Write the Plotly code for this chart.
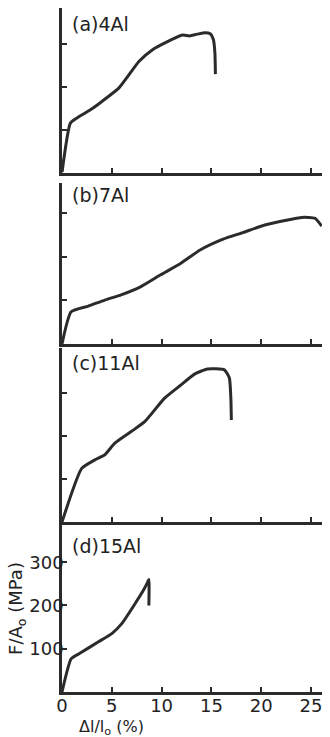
import plotly.graph_objects as go

# ---- data (strain %, stress MPa) ----
strain_a = [0, 0.84, 1.5, 2.86, 4.04, 5.72, 7.74, 9.09, 10.44, 12.12, 12.8, 14.14, 14.88, 15.2, 15.35, 15.4]
stress_a = [0, 115, 127, 146, 166, 197, 259, 286, 303, 320, 318, 325, 323, 309, 278, 229]

strain_b = [0, 0.92, 2.64, 4.29, 5.94, 7.92, 9.9, 11.9, 13.86, 16.17, 18.15, 20.45, 22.4, 24.1, 25.4, 26.07]
stress_b = [0, 74, 87, 101, 113, 132, 159, 185, 216, 241, 256, 274, 284, 291, 289, 271]

strain_c = [0, 1.98, 3.3, 4.3, 5.3, 6.95, 8.3, 10.3, 11.95, 13.3, 14.6, 16.3, 16.8, 16.95, 17.0]
stress_c = [0, 125, 145, 157, 184, 211, 234, 289, 320, 345, 357, 355, 336, 289, 238]

strain_d = [0, 0.93, 1.83, 3.66, 5.0, 6.0, 7.33, 8.17, 8.6, 8.72, 8.72]
stress_d = [0, 77, 90, 116, 135, 158, 204, 235, 254, 260, 200]

panel_labels = ["(a)4Al", "(b)7Al", "(c)11Al", "(d)15Al"]
x_ticks = [0, 5, 10, 15, 20, 25]
y_ticks = [100, 200, 300]

W, H = 330, 737
ML, MR, MB = 62, 8, 45
PH = H - MB  # plot area height (top margin 0)

def frac(py):
    return (PH - py) / PH

panels = [
    dict(bot=172.5, top=8, ymax=383, x=strain_a, y=stress_a, lab_y=24),
    dict(bot=344, top=183, ymax=370, x=strain_b, y=stress_b, lab_y=195),
    dict(bot=522, top=348, ymax=406, x=strain_c, y=stress_c, lab_y=363),
    dict(bot=692, top=525, ymax=386, x=strain_d, y=stress_d, lab_y=546),
]

LINE = "#2b2b2b"
fig = go.Figure()
layout = dict(
    width=W, height=H,
    margin=dict(l=ML, r=MR, t=0, b=MB),
    paper_bgcolor="white", plot_bgcolor="white",
    showlegend=False,
    font=dict(family="DejaVu Sans", color="#222", size=17),
)
annotations = []
for i, p in enumerate(panels):
    n = i + 1
    xa = "x" if n == 1 else f"x{n}"
    ya = "y" if n == 1 else f"y{n}"
    fig.add_trace(go.Scatter(x=p["x"], y=p["y"], mode="lines",
                             line=dict(color=LINE, width=3, shape="spline", smoothing=0.5),
                             cliponaxis=False,
                             xaxis=xa, yaxis=ya, hoverinfo="skip"))
    last = (n == 4)
    layout[f"xaxis{'' if n == 1 else n}"] = dict(
        domain=[0, 1], range=[0, 26.1], anchor=ya,
        showline=True, linecolor=LINE, linewidth=2.5,
        ticks="inside", ticklen=5, tickwidth=1.5, tickcolor=LINE,
        tickvals=x_ticks, showticklabels=last,
        ticktext=[str(v) for v in x_ticks],
        showgrid=False, zeroline=False, fixedrange=True,
        tickfont=dict(size=18), ticklabelstandoff=-4,
    )
    layout[f"yaxis{'' if n == 1 else n}"] = dict(
        domain=[frac(p["bot"]), frac(p["top"])], range=[0, p["ymax"]], anchor=xa,
        showline=True, linecolor=LINE, linewidth=2.5,
        ticks="inside", ticklen=5, tickwidth=1.5, tickcolor=LINE,
        tickvals=y_ticks, showticklabels=last,
        ticktext=[str(v) for v in y_ticks],
        showgrid=False, zeroline=False, fixedrange=True,
        tickfont=dict(size=18), ticklabelstandoff=-8,
    )
    annotations.append(dict(
        text=panel_labels[i], xref="paper", yref="paper",
        x=(70 - ML) / (W - ML - MR), y=frac(p["lab_y"]),
        xanchor="left", yanchor="middle", showarrow=False,
        font=dict(size=19, color="#222"),
    ))

layout["yaxis4"]["title"] = dict(text="F/A<sub>o</sub> (MPa)", standoff=2,
                                 font=dict(size=18))
annotations.append(dict(
    text="Δl/l<sub>o</sub> (%)", xref="x4", yref="paper",
    x=5, y=-35 / PH, xanchor="center", yanchor="middle", showarrow=False,
    font=dict(size=16, color="#222"),
))
layout["annotations"] = annotations
fig.update_layout(**layout)
fig.write_html("out.html", config={"displayModeBar": False},
               post_script="document.body.style.margin='0px';")
